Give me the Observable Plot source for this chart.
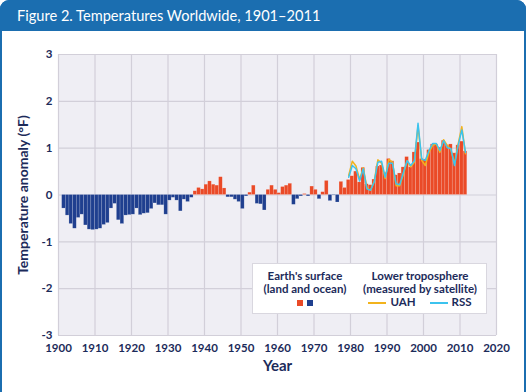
<!DOCTYPE html>
<html><head><meta charset="utf-8">
<script src="https://cdn.jsdelivr.net/npm/d3@7"></script>
<script src="https://cdn.jsdelivr.net/npm/@observablehq/plot@0.6"></script>
<style>
html,body{margin:0;padding:0;background:#fff;}
#wrap{position:relative;width:528px;height:392px;overflow:hidden;font-family:Lato,"Open Sans",sans-serif;}
#frame{position:absolute;left:0;top:0;width:526px;height:400px;box-sizing:border-box;border:2px solid #1b6eb0;border-radius:9px 9px 0 0;pointer-events:none;}
#title{position:absolute;left:0;top:0;width:526px;height:31px;background:#1b6eb0;border-radius:9px 9px 0 0;color:#fff;font-size:14.6px;line-height:31px;padding-left:17px;box-sizing:border-box;}
#chart{position:absolute;left:0;top:31px;}
#legend{position:absolute;left:252px;top:263px;width:235px;height:51px;box-sizing:border-box;background:#fff;border:1px solid #d9d7df;color:#1c2b5a;font-weight:bold;font-size:11.5px;line-height:13px;}
.col{position:absolute;top:5px;text-align:center;white-space:nowrap;}
.sw{display:inline-block;width:6px;height:6px;vertical-align:middle;margin:0 2px;}
.ln{display:inline-block;width:18px;height:2px;vertical-align:middle;margin:0 4px 0 0;}
</style></head>
<body>
<div id="wrap">
  <div id="chart"></div>
  <div id="title">Figure 2. Temperatures Worldwide, 1901–2011</div>
  <div id="legend">
    <div class="col" style="left:0;width:104px;">Earth's surface<br>(land and ocean)<br><span class="sw" style="background:#ea4a27"></span><span class="sw" style="background:#1f3f8f"></span></div>
    <div class="col" style="left:100px;width:134px;">Lower troposphere<br>(measured by satellite)<br><span class="ln" style="background:#f2b31c"></span>UAH&nbsp;&nbsp;&nbsp;&nbsp;&nbsp;<span class="ln" style="background:#3cc3ee"></span>RSS</div>
  </div>
  <div id="frame"></div>
</div>
<script>
const firstYear = 1901;
const surfaceAnomaly = [
  -0.29, -0.44, -0.62, -0.72, -0.49, -0.42, -0.65, -0.74, -0.75, -0.74,
  -0.72, -0.64, -0.60, -0.29, -0.19, -0.54, -0.62, -0.44, -0.43, -0.42,
  -0.29, -0.43, -0.40, -0.39, -0.30, -0.18, -0.22, -0.22, -0.42, -0.12,
  -0.06, -0.12, -0.35, -0.10, -0.15, -0.06, 0.08, 0.15, 0.12, 0.22,
  0.29, 0.22, 0.20, 0.38, 0.14, -0.05, -0.05, -0.10, -0.15, -0.30,
  -0.03, 0.05, 0.20, -0.19, -0.20, -0.33, 0.11, 0.20, 0.11, 0.04,
  0.17, 0.20, 0.24, -0.21, -0.09, -0.03, 0.02, -0.03, 0.18, 0.11,
  -0.09, 0.06, 0.30, -0.13, -0.01, -0.16, 0.28, 0.15, 0.32, 0.40,
  0.50, 0.27, 0.58, 0.23, 0.21, 0.33, 0.61, 0.63, 0.47, 0.77,
  0.72, 0.42, 0.46, 0.59, 0.81, 0.59, 0.91, 1.12, 0.77, 0.76,
  0.96, 1.08, 1.08, 1.01, 1.16, 1.06, 1.08, 0.89, 1.06, 1.14,
  0.93
];
const satFirstYear = 1979;
const uahAnomaly = [
  0.42, 0.72, 0.62, 0.33, 0.58, 0.15, 0.10, 0.30, 0.75, 0.68,
  0.35, 0.76, 0.70, 0.20, 0.20, 0.45, 0.73, 0.60, 0.70, 1.48,
  0.74, 0.63, 0.91, 1.06, 1.09, 0.91, 1.18, 1.06, 0.97, 0.67,
  1.09, 1.46, 0.88
];
const rssAnomaly = [
  0.38, 0.63, 0.56, 0.30, 0.56, 0.13, 0.10, 0.28, 0.70, 0.72,
  0.38, 0.68, 0.68, 0.24, 0.22, 0.48, 0.73, 0.63, 0.73, 1.53,
  0.77, 0.74, 0.95, 1.10, 1.10, 0.95, 1.16, 1.01, 0.99, 0.63,
  1.06, 1.39, 0.91
];
const xTicks = [1900, 1910, 1920, 1930, 1940, 1950, 1960, 1970, 1980, 1990, 2000, 2010, 2020];
const yTicks = [-3, -2, -1, 0, 1, 2, 3];

const navy = "#1c2b5a";
const red = "#ea4a27", blue = "#1f3f8f";

const surface = surfaceAnomaly.map((v, i) => ({year: firstYear + i, value: v}));
const uah = uahAnomaly.map((v, i) => ({year: satFirstYear + i, value: v}));
const rss = rssAnomaly.map((v, i) => ({year: satFirstYear + i, value: v}));

const chart = Plot.plot({
  width: 528, height: 361,
  marginLeft: 58, marginRight: 32, marginTop: 23, marginBottom: 57,
  style: {fontFamily: "Lato, 'Open Sans', sans-serif", fontSize: "11.5px", fontWeight: "bold", color: navy, background: "transparent", overflow: "visible"},
  x: {domain: [1900, 2020], ticks: xTicks, tickFormat: d => String(d), tickSize: 0, tickPadding: 8, label: null},
  y: {domain: [-3, 3], ticks: yTicks, tickFormat: d => String(d), tickSize: 0, tickPadding: 6, label: null},
  marks: [
    Plot.frame({fill: "#efeef4", stroke: null}),
    Plot.gridX(xTicks, {stroke: "#d2cfd9", strokeOpacity: 1, strokeWidth: 1.2}),
    Plot.gridY(yTicks, {stroke: "#d2cfd9", strokeOpacity: 1, strokeWidth: 1.2}),
    Plot.rect(surface, {
      x1: "year", x2: d => d.year + 1, y1: 0, y2: "value",
      fill: d => d.value >= 0 ? red : blue,
      stroke: "#ffffff", strokeOpacity: 0.3, strokeWidth: 0.5
    }),
    Plot.line(uah, {x: d => d.year + 0.5, y: "value", stroke: "#f2b31c", strokeWidth: 1.5}),
    Plot.line(rss, {x: d => d.year + 0.5, y: "value", stroke: "#3cc3ee", strokeWidth: 1.5}),
    Plot.text(["Year"], {text: d => d, frameAnchor: "bottom", dy: 35, fontSize: 15, fontWeight: "bold", fill: navy}),
    Plot.text(["Temperature anomaly (°F)"], {text: d => d, frameAnchor: "left", textAnchor: "middle", dx: -35, rotate: -90, fontSize: 14, fontWeight: "bold", fill: navy})
  ]
});
document.getElementById("chart").appendChild(chart);
</script>
</body></html>
